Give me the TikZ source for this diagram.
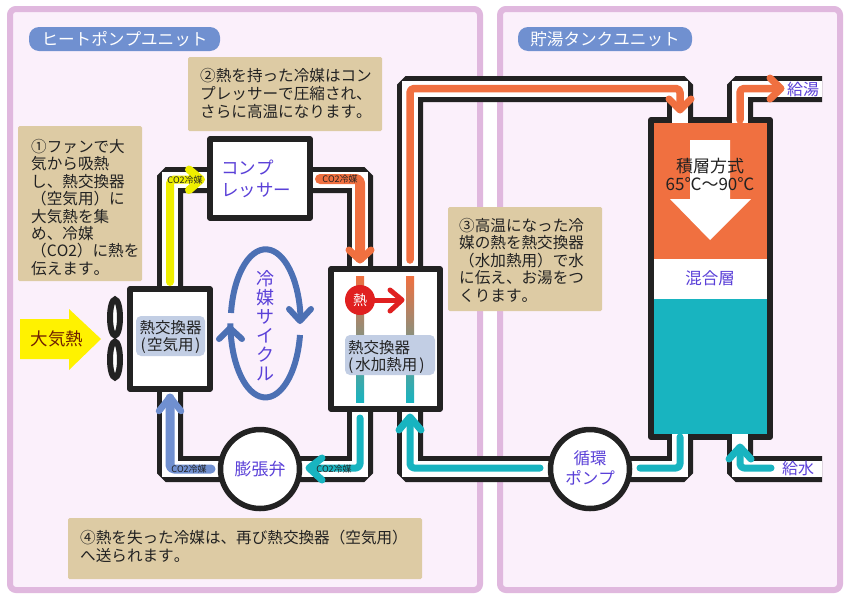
\documentclass[tikz,border=0pt]{standalone}
\usepackage{fontspec}
\setmainfont{Noto Sans CJK JP}[Kerning=Off]
\usetikzlibrary{calc}
\definecolor{panelbg}{HTML}{FBF0FB}
\definecolor{panelbd}{HTML}{E0B8DE}
\definecolor{tan}{HTML}{DDCBA4}
\definecolor{ink}{HTML}{222222}
\definecolor{hot}{HTML}{F07040}
\definecolor{teal}{HTML}{18B4C0}
\definecolor{coolb}{HTML}{7090D0}
\definecolor{cycle}{HTML}{4C70B4}
\definecolor{purp}{HTML}{5A40D8}
\definecolor{lab}{HTML}{C2CEE4}
\definecolor{yel}{HTML}{EEEE00}
\definecolor{airtext}{HTML}{702000}
\definecolor{heatred}{HTML}{E02020}
\tikzset{
  panel/.style={draw=panelbd,line width=6pt,fill=panelbg,rounded corners=6pt},
  notebox/.style={fill=tan,rounded corners=1.5pt},
  notetext/.style={anchor=north west,inner sep=0pt,align=left,text=ink,font=\fontsize{15.6}{17.4}\selectfont},
  pipeo/.style={draw=ink,line width=26pt,line join=miter,rounded corners=1pt},
  pipei/.style={draw=white,line width=16pt,line join=miter},
  unit/.style={draw=ink,line width=5.5pt,fill=white,line join=round},
  flow/.style={line width=#1,line cap=round,line join=round,rounded corners=4pt},
  flow/.default=8pt,
  small/.style={inner sep=0pt,text=ink,font=\fontsize{9}{9}\selectfont},
  blue/.style={inner sep=0pt,text=purp,align=center,font=\fontsize{17}{20}\selectfont},
  pill/.style={fill=coolb,rounded corners=10pt,inner sep=0pt,text=white,font=\fontsize{16.6}{17}\selectfont},
  tag/.style={fill=lab,rounded corners=5pt,inner sep=0pt},
  tagtext/.style={inner sep=0pt,text=ink,align=left,font=\fontsize{15.5}{17}\selectfont},
}
\begin{document}
\begin{tikzpicture}[x=1pt,y=-1pt]
\useasboundingbox (0,0) rectangle (850,600);
\fill[white] (0,0) rectangle (850,600);
% panels
\draw[panel] (10,9) rectangle (480,590);
\draw[panel] (500,9) rectangle (840,590);
% notes
\fill[notebox] (18,126) rectangle (142,281);
\fill[notebox] (188,57) rectangle (382,131);
\fill[notebox] (448,207) rectangle (602,311);
\fill[notebox] (68,518) rectangle (422,579);
\node[notetext] (n1) at (31,139) {①ファンで大\\気から吸熱\\し、熱交換器\\（空気用）に\\大気熱を集\\め、冷媒\\（CO2）に熱を\\伝えます。};
\node[notetext,font=\fontsize{15.6}{18}\selectfont] (n2) at (200,68) {②熱を持った冷媒はコン\\プレッサーで圧縮され、\\さらに高温になります。};
\node[notetext] (n3) at (459,218) {③高温になった冷\\媒の熱を熱交換器\\（水加熱用）で水\\に伝え、お湯をつ\\くります。};
\node[notetext,font=\fontsize{15.6}{18}\selectfont] (n4) at (80,530) {④熱を失った冷媒は、再び熱交換器（空気用）\\へ送られます。};
% titles
\node[pill,minimum width=191pt,minimum height=24pt] (t1) at (124.5,39) {ヒートポンプユニット};
\node[pill,minimum width=174pt,minimum height=24pt] (t2) at (605,39) {貯湯タンクユニット};
% tank
\fill[hot] (651,120) rectangle (770,259);
\fill[white] (651,259) rectangle (770,299);
\fill[teal] (651,299) rectangle (770,437);
\draw[ink,line width=6pt,line join=round] (651,120) rectangle (770,437);
\fill[white] (690,140) -- (730,140) -- (730,199) -- (751,199) -- (710,240) -- (670,199) -- (690,199) -- cycle;
% pipes
\coordinate (a) at (170,288); \coordinate (b) at (170,180); \coordinate (c) at (210,180);
\draw[pipeo] (a) -- (b) -- (c); \draw[pipei] (a) -- (b) -- (c);
\coordinate (d) at (310,180); \coordinate (e) at (360,180); \coordinate (f) at (360,272);
\draw[pipeo] (d) -- (e) -- (f); \draw[pipei] (d) -- (e) -- (f);
\coordinate (g) at (410,272); \coordinate (h) at (410,89); \coordinate (i) at (680,89); \coordinate (j) at (680,119.5);
\draw[pipeo] (g) -- (h) -- (i) -- (j); \draw[pipei] (g) -- (h) -- (i) -- (j) -- (680,123);
\coordinate (k) at (740,119.5); \coordinate (l) at (740,89); \coordinate (m) at (822,89);
\draw[pipeo] (k) -- (l) -- (m); \draw[pipei] (740,123) -- (l) -- (m);
\coordinate (n) at (360,406); \coordinate (o) at (360,469); \coordinate (p) at (260,469);
\draw[pipeo] (n) -- (o) -- (p); \draw[pipei] (n) -- (o) -- (p);
\coordinate (q) at (260,469); \coordinate (r) at (170,469); \coordinate (s) at (170,386);
\draw[pipeo] (q) -- (r) -- (s); \draw[pipei] (q) -- (r) -- (s);
\coordinate (u) at (590,469); \coordinate (v) at (410,469); \coordinate (w) at (410,406);
\draw[pipeo] (u) -- (v) -- (w); \draw[pipei] (u) -- (v) -- (w);
\coordinate (x1) at (590,469); \coordinate (x2) at (680,469); \coordinate (x3) at (680,437.5);
\draw[pipeo] (x1) -- (x2) -- (x3); \draw[pipei] (x1) -- (x2) -- (680,434);
\coordinate (y1) at (822,469); \coordinate (y2) at (740,469); \coordinate (y3) at (740,437.5);
\draw[pipeo] (y1) -- (y2) -- (y3); \draw[pipei] (y1) -- (y2) -- (740,434);
% units
\node[unit,minimum width=80pt,minimum height=100pt,inner sep=0pt] (hxa) at (170,339) {};
\node[unit,minimum width=100pt,minimum height=79pt,inner sep=0pt] (comp) at (260,178.5) {};
\node[unit,minimum width=109pt,minimum height=140pt,inner sep=0pt] (hxw) at (385.5,339) {};
\node[unit,circle,minimum size=79pt,inner sep=0pt] (valve) at (260,469) {};
\node[unit,circle,minimum size=79pt,inner sep=0pt] (pump) at (590,469) {};
% fan
\draw[ink,line width=6pt,fill=white] (115,317.5) ellipse (5pt and 18pt);
\draw[ink,line width=6pt,fill=white] (115,359.5) ellipse (5pt and 18pt);
% outside heat arrow
\fill[yellow] (20,319) -- (69,319) -- (69,309) -- (101,339) -- (69,370) -- (69,359) -- (20,359) -- cycle;
\node[inner sep=0pt,text=airtext,font=\fontsize{17.5}{18}\selectfont] (air) at (57,339) {大気熱};
% flows
\draw[yel,flow] (170,282) -- (170,179.5) -- (200,179.5);
\draw[yel,flow=8pt,rounded corners=0pt] (189,169.5) -- (201,179.5) -- (189,190);
\draw[hot,flow=10pt] (320,179) -- (360,179) -- (360,258);
\draw[hot,flow=7pt,rounded corners=0pt] (349,250) -- (360,260) -- (371,250);
\draw[hot,flow=7.5pt] (410,260) -- (410,88.5) -- (680,88.5) -- (680,108);
\draw[hot,flow=7pt,rounded corners=0pt] (669,99) -- (680,110) -- (691,99);
\draw[hot,flow=7.5pt] (740,120) -- (740,88.5) -- (780,88.5);
\draw[hot,flow=7pt,rounded corners=0pt] (770,78) -- (781,88.5) -- (770,99);
\draw[teal,flow=7pt] (360,418) -- (360,468) -- (311,468);
\draw[teal,flow=7pt,rounded corners=0pt] (322,458) -- (309,468) -- (322,480);
\draw[coolb,flow=9pt] (211,469) -- (170,469) -- (170,398);
\draw[coolb,flow=6.5pt,rounded corners=0pt] (159,411) -- (170,397) -- (181,411);
\draw[teal,flow=7pt] (540,468) -- (410,468) -- (410,418);
\draw[teal,flow=7pt,rounded corners=0pt] (399,430) -- (410,417) -- (421,430);
\draw[teal,flow=7pt] (640,468) -- (680,468) -- (680,437);
\draw[teal,flow=7pt] (771,468) -- (740,468) -- (740,448);
\draw[teal,flow=7pt,rounded corners=0pt] (729,459) -- (740,447) -- (751,459);
% exchanger bars
\shade[top color=hot,bottom color=teal] (356,276) rectangle (364,402);
\shade[top color=hot,bottom color=teal] (406,276) rectangle (414,402);
\node[tag,minimum width=69pt,minimum height=40pt] (ta) at (170.5,336) {};
\node[tag,minimum width=90pt,minimum height=40pt] (tw) at (390,355) {};
\node[tagtext,align=center] (tat) at (170.5,336.5) {熱交換器\\(\kern1.5pt空気用\kern1.5pt)};
\node[tagtext,anchor=west] (twt) at (348,356.5) {熱交換器\\(\kern2pt水加熱用\kern2pt)};
% heat
\draw[heatred,line width=5pt,line cap=round] (372,300) -- (401,300);
\draw[heatred,line width=5pt,line cap=round,line join=round] (390,290) -- (402,300) -- (390,311);
\node[circle,fill=heatred,minimum size=30pt,inner sep=0pt,text=white,font=\fontsize{14}{14}\selectfont] (heat) at (360,300) {熱};
% cycle
\draw[cycle,line width=6pt] (231,313) arc[start angle=172,end angle=3,x radius=35pt,y radius=74pt];
\draw[cycle,line width=6pt] (300,335) arc[start angle=-9,end angle=-180,x radius=35pt,y radius=74pt];
\draw[cycle,line width=6pt,line cap=round,line join=round] (289,309) -- (300,321) -- (311,309);
\draw[cycle,line width=6pt,line cap=round,line join=round] (219,339) -- (230,328) -- (242,339);
\node[blue,font=\fontsize{18}{19}\selectfont] (cy) at (265,326) {冷\\媒\\サ\\イ\\ク\\ル};
% texts
\node[blue,align=left,font=\fontsize{17.5}{22}\selectfont,anchor=west] (ct) at (221,179) {コンプ\\レッサー};
\node[blue] (vt) at (260,469) {膨張弁};
\node[blue,font=\fontsize{16.5}{20}\selectfont] (pt) at (590,468) {循環\\ポンプ};
\node[blue,font=\fontsize{16.5}{20}\selectfont] (mx) at (710,278) {混合層};
\node[inner sep=0pt,text=ink,align=center,font=\fontsize{17}{18}\selectfont] (st) at (710,174) {積層方式\\65℃～90℃};
\node[blue,font=\fontsize{16}{16}\selectfont] (hw) at (803,89) {給湯};
\node[blue,font=\fontsize{16}{16}\selectfont] (cw) at (798,468) {給水};
\node[small] (l1) at (185,180) {CO2冷媒};
\node[small] (l2) at (340,179) {CO2冷媒};
\node[small] (l3) at (189,469) {CO2冷媒};
\node[small] (l4) at (334,469) {CO2冷媒};
\end{tikzpicture}
\end{document}
